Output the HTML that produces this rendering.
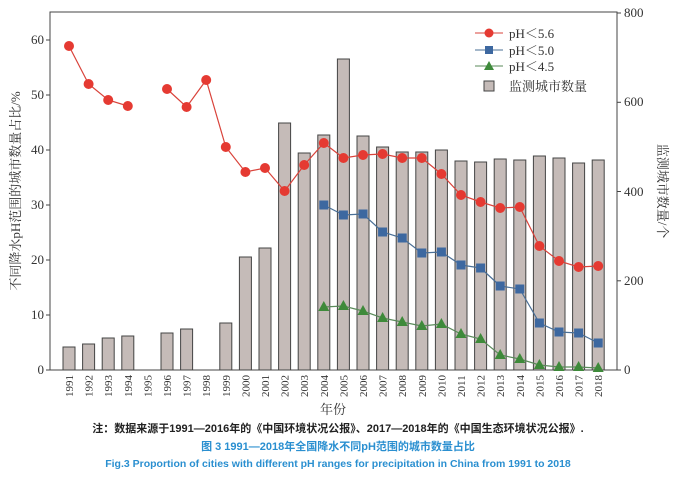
<!DOCTYPE html>
<html><head><meta charset="utf-8"><style>
body{margin:0;background:#fff;}
svg{display:block;font-family:"Liberation Serif","Noto Serif CJK SC",serif;}
</style></head><body>
<svg id="s" width="677" height="482" viewBox="0 0 677 482" xmlns="http://www.w3.org/2000/svg">
<rect x="50" y="12" width="567" height="358" fill="#fff" stroke="#444" stroke-width="1"/>
<g id="bars"></g>
<g id="lines"></g>
<!-- left ticks -->
<g stroke="#444">
<line x1="50" y1="370" x2="46" y2="370"/><line x1="50" y1="315" x2="46" y2="315"/><line x1="50" y1="260" x2="46" y2="260"/><line x1="50" y1="205" x2="46" y2="205"/><line x1="50" y1="150" x2="46" y2="150"/><line x1="50" y1="95" x2="46" y2="95"/><line x1="50" y1="40" x2="46" y2="40"/>
<line x1="617" y1="370" x2="621" y2="370"/><line x1="617" y1="280.8" x2="621" y2="280.8"/><line x1="617" y1="191.5" x2="621" y2="191.5"/><line x1="617" y1="102.3" x2="621" y2="102.3"/><line x1="617" y1="13" x2="621" y2="13"/>
</g>
<g font-size="13" fill="#333" text-anchor="end">
<text x="44" y="374">0</text><text x="44" y="319">10</text><text x="44" y="264">20</text><text x="44" y="209">30</text><text x="44" y="154">40</text><text x="44" y="99">50</text><text x="44" y="44">60</text>
</g>
<g font-size="13" fill="#333">
<text x="624" y="374">0</text><text x="624" y="285">200</text><text x="624" y="196">400</text><text x="624" y="106">600</text><text x="624" y="17">800</text>
</g>
<g font-size="11" fill="#333" id="years"></g>
<text transform="translate(20,191) rotate(-90)" font-size="13" fill="#333" text-anchor="middle">不同降水pH范围的城市数量占比/%</text>
<text transform="translate(658,191) rotate(90)" font-size="13" fill="#333" text-anchor="middle">监测城市数量/个</text>
<text x="333" y="414" font-size="13" fill="#333" text-anchor="middle">年份</text>
<!-- legend -->
<g font-size="13" fill="#333">
<line x1="475" y1="33" x2="503" y2="33" stroke="#d9433b"/><circle cx="489" cy="33" r="4.5" fill="#e53a32"/><text x="509" y="38">pH＜5.6</text>
<line x1="475" y1="50" x2="503" y2="50" stroke="#4a6f96"/><rect x="485" y="46" width="8" height="8" fill="#3d68a0"/><text x="509" y="55">pH＜5.0</text>
<line x1="475" y1="66" x2="503" y2="66" stroke="#5a8a5a"/><polygon points="489,61 494,70 484,70" fill="#3e8a3a"/><text x="509" y="71">pH＜4.5</text>
<rect x="484" y="81" width="10" height="10" fill="#c5bbb8" stroke="#444"/><text x="509" y="91">监测城市数量</text>
</g>
<g font-family="Liberation Sans,Noto Sans CJK SC,sans-serif" font-weight="bold" font-size="11" text-anchor="middle">
<text x="338" y="432" fill="#222">注：数据来源于1991—2016年的《中国环境状况公报》、2017—2018年的《中国生态环境状况公报》.</text>
<text x="338" y="450" fill="#2a8fd0">图 3  1991—2018年全国降水不同pH范围的城市数量占比</text>
<text x="338" y="467" fill="#2a8fd0" font-size="10.5">Fig.3 Proportion of cities with different pH ranges for precipitation in China from 1991 to 2018</text>
</g>
</svg>
<script>
var NS="http://www.w3.org/2000/svg";
function X(i){return 69+19.6*i;}
function el(p,t,a){var e=document.createElementNS(NS,t);for(var k in a)e.setAttribute(k,a[k]);p.appendChild(e);return e;}
var bars=document.getElementById("bars"),lines=document.getElementById("lines");
var bt=[347,344,338,336,null,333,329,null,323,257,248,123,153,135,59,136,147,152,152,150,161,162,159,160,156,158,163,160];
bt.forEach(function(t,i){if(t===null)return;el(bars,"rect",{x:X(i)-6,y:t,width:12,height:370-t,fill:"#c5bbb8",stroke:"#444","stroke-width":1});});
var red=[46,84,100,106,null,89,107,80,147,172,168,191,165,143,158,155,154,158,158,174,195,202,208,207,246,261,267,266];
var blue={13:205,14:215,15:214,16:232,17:238,18:253,19:252,20:265,21:268,22:286,23:289,24:323,25:332,26:333,27:343};
var green={13:307,14:306,15:311,16:318,17:322,18:326,19:324,20:334,21:339,22:355,23:359,24:365,25:367,26:367,27:368};
function drawLine(pts,col){var segs=[],cur=[];pts.forEach(function(p){if(p===null){if(cur.length)segs.push(cur);cur=[];}else cur.push(p);});if(cur.length)segs.push(cur);
segs.forEach(function(s){el(lines,"polyline",{points:s.map(function(p){return p.join(",");}).join(" "),fill:"none",stroke:col,"stroke-width":1.2});});}
var rp=red.map(function(y,i){return y===null?null:[X(i),y];});
drawLine(rp,"#d9433b");
var bp=[],gp=[];for(var i=13;i<28;i++){bp.push([X(i),blue[i]]);gp.push([X(i),green[i]]);}
drawLine(bp,"#4a6f96");drawLine(gp,"#5a8a5a");
rp.forEach(function(p){if(p)el(lines,"circle",{cx:p[0],cy:p[1],r:5,fill:"#e53a32"});});
bp.forEach(function(p){el(lines,"rect",{x:p[0]-4.5,y:p[1]-4.5,width:9,height:9,fill:"#3d68a0"});});
gp.forEach(function(p){el(lines,"polygon",{points:(p[0])+","+(p[1]-6)+" "+(p[0]+5.5)+","+(p[1]+4)+" "+(p[0]-5.5)+","+(p[1]+4),fill:"#3e8a3a"});});
var yrs=document.getElementById("years");
var Y=["1991","1992","1993","1994","1995","1996","1997","1998","1999","2000","2001","2002","2003","2004","2005","2006","2007","2008","2009","2010","2011","2012","2013","2014","2015","2016","2017","2018"];
Y.forEach(function(y,i){var t=el(yrs,"text",{transform:"translate("+(X(i)+4)+",397) rotate(-90)"});t.textContent=y;});
</script>
</body></html>
